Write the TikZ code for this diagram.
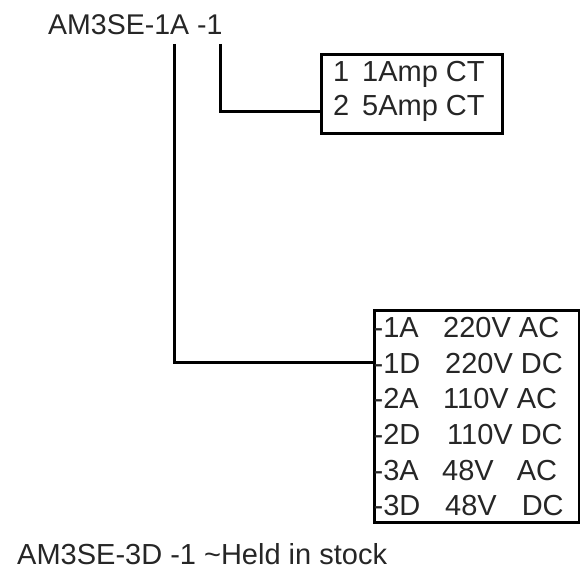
\documentclass[tikz,border=0pt]{standalone}
\usepackage{fontspec}
\setmainfont{Liberation Sans}
\begin{document}
\begin{tikzpicture}[x=1pt,y=1pt,
  txt/.style={inner sep=0pt,anchor=base west,text=black!85,font=\fontsize{29}{34}\selectfont},
  box/.style={draw=black,line width=3pt,inner sep=0pt,anchor=north west},
  wire/.style={draw=black,line width=3pt}]
\useasboundingbox (0,0) rectangle (580,-569);
% title and footer
\node[txt,font=\fontsize{28.5}{34}\selectfont] (title) at (48,-35) {AM3SE-1A -1};
\node[txt] (foot) at (17,-564) {AM3SE-3D -1 \textasciitilde Held in stock};
% boxes
\node[box,minimum width=181pt,minimum height=79pt] (box1) at (320,-53) {};
\node[box,minimum width=205pt,minimum height=212pt] (box2) at (373,-309) {};
% box 1 text
\node[txt] (c1) at (333,-82) {1};
\node[txt] (d1) at (362,-82) {1Amp CT};
\node[txt] (c2) at (333,-116) {2};
\node[txt] (d2) at (362,-116) {5Amp CT};
% box 2 text
\node[txt] (r1) at (373.5,-337) {-1A};
\node[txt] (s1) at (443,-337) {220V AC};
\node[txt] (r2) at (373.5,-373) {-1D};
\node[txt] (s2) at (445,-373) {220V DC};
\node[txt] (r3) at (373.5,-408) {-2A};
\node[txt] (s3) at (443,-408) {110V AC};
\node[txt] (r4) at (373.5,-444) {-2D};
\node[txt] (s4) at (447,-444) {110V DC};
\node[txt] (r5) at (373.5,-480) {-3A};
\node[txt] (s5) at (442,-480) {48V\hspace{23pt}AC};
\node[txt] (r6) at (373.5,-515) {-3D};
\node[txt] (s6) at (445,-515) {48V\hspace{25pt}DC};
% connectors
\coordinate (t1) at (174,-44);
\coordinate (t2) at (220,-44);
\coordinate (e1) at (box2.west |- 0,-362);
\coordinate (e2) at (box1.west |- 0,-112);
\draw[wire] (t1) |- (e1);
\draw[wire] (t2) |- (e2);
\end{tikzpicture}
\end{document}
